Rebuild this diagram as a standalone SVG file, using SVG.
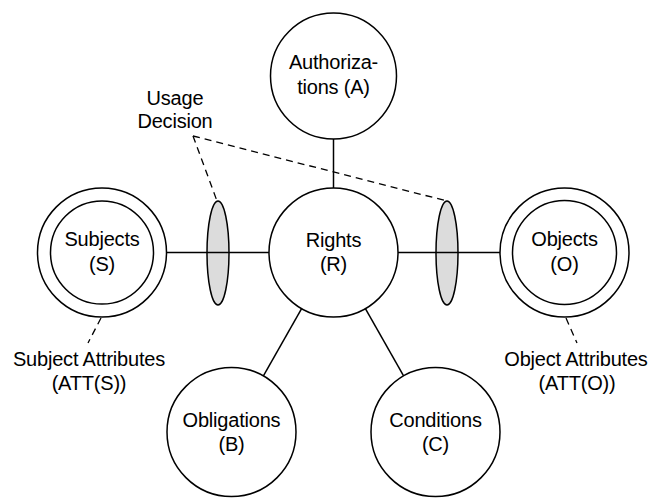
<svg xmlns="http://www.w3.org/2000/svg" width="652" height="498" viewBox="0 0 652 498">
<style>
.c{fill:#fff;stroke:#000;stroke-width:1.5}
.e{fill:#dcdcdc;stroke:#000;stroke-width:1.5}
.l{stroke:#000;stroke-width:1.5;fill:none}
.d{stroke:#000;stroke-width:1.3;fill:none;stroke-dasharray:7 5}
text{font-family:"Liberation Sans",Arial,sans-serif;font-size:20px;letter-spacing:-0.2px;text-anchor:middle;fill:#000}
</style>
<rect width="652" height="498" fill="#fff"/>
<g id="decision-left"><ellipse class="e" cx="218" cy="253" rx="11" ry="52"/></g>
<g id="decision-right"><ellipse class="e" cx="447" cy="253" rx="11" ry="52"/></g>
<g id="connectors">
<line class="l" x1="166.5" y1="252.5" x2="269" y2="252.5"/>
<line class="l" x1="398" y1="252.5" x2="500" y2="252.5"/>
<line class="l" x1="333.5" y1="139" x2="333.5" y2="188"/>
<line class="l" x1="301.6" y1="308.6" x2="263.4" y2="375.9"/>
<line class="l" x1="365.4" y1="308.6" x2="403.6" y2="375.9"/>
<line class="d" x1="193" y1="136" x2="217" y2="201"/>
<line class="d" x1="193" y1="136" x2="447" y2="201"/>
<line class="d" x1="101" y1="318" x2="88" y2="343"/>
<line class="d" x1="566" y1="318" x2="577" y2="343"/>
</g>
<g id="authorizations"><circle class="c" cx="333.5" cy="76" r="63"/><text x="333.5" y="69">Authoriza-</text><text x="333.5" y="94">tions (A)</text></g>
<g id="rights"><circle class="c" cx="333.5" cy="252.5" r="64.5"/><text x="333.5" y="247">Rights</text><text x="333.5" y="271">(R)</text></g>
<g id="subjects"><circle class="c" cx="102" cy="252.5" r="64.5"/><circle class="c" cx="102" cy="252.5" r="51.5"/><text x="102" y="246">Subjects</text><text x="102" y="271">(S)</text></g>
<g id="objects"><circle class="c" cx="564.5" cy="252.5" r="64.5"/><circle class="c" cx="564.5" cy="252.5" r="52"/><text x="564.5" y="246">Objects</text><text x="564.5" y="271">(O)</text></g>
<g id="obligations"><circle class="c" cx="231.5" cy="432" r="64.5"/><text x="231.5" y="427">Obligations</text><text x="231.5" y="451">(B)</text></g>
<g id="conditions"><circle class="c" cx="435.5" cy="432" r="64.5"/><text x="435.5" y="427">Conditions</text><text x="435.5" y="451">(C)</text></g>
<g id="usage-decision-label"><text x="175" y="105">Usage</text><text x="175" y="128">Decision</text></g>
<g id="subject-attributes"><text x="89" y="366">Subject Attributes</text><text x="89" y="390">(ATT(S))</text></g>
<g id="object-attributes"><text x="576" y="366">Object Attributes</text><text x="577" y="390">(ATT(O))</text></g>
</svg>
